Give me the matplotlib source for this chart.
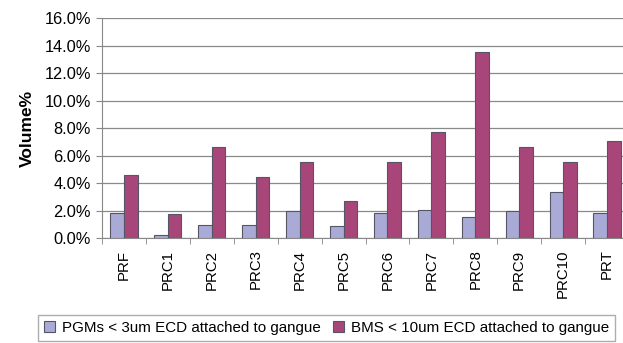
import numpy as np
import matplotlib.pyplot as plt

plt.rcParams['font.family'] = ['Liberation Sans', 'DejaVu Sans']

samples = ['PRF', 'PRC1', 'PRC2', 'PRC3', 'PRC4', 'PRC5', 'PRC6',
           'PRC7', 'PRC8', 'PRC9', 'PRC10', 'PRT']
# volume % of particles attached to gangue
pgms = [1.88, 0.23, 0.98, 1.0, 2.0, 0.89, 1.85, 2.07, 1.54, 1.98, 3.38, 1.85]
bms = [4.6, 1.76, 6.65, 4.47, 5.56, 2.73, 5.54, 7.72, 13.59, 6.65, 5.56, 7.07]
y_ticks = [0, 2, 4, 6, 8, 10, 12, 14, 16]

fig = plt.figure(figsize=(6.23, 3.43), dpi=100)
ax = fig.add_axes([0.1637, 0.3047, 0.846, 0.6414])

x = np.arange(len(samples))
w = 0.31
ax.bar(x - w / 2, pgms, w, color='#aaaad6', edgecolor='#555566', linewidth=0.8,
       label='PGMs < 3um ECD attached to gangue', zorder=3)
ax.bar(x + w / 2, bms, w, color='#a8467a', edgecolor='#555566', linewidth=0.8,
       label='BMS < 10um ECD attached to gangue', zorder=3)

ax.set_xlim(-0.5, len(samples) - 0.5)
ax.set_ylim(0, 16)
ax.set_yticks(y_ticks)
ax.set_yticklabels(['%.1f%%' % v for v in y_ticks], fontsize=11.8)
ax.yaxis.grid(True, color='#8a8a8a', linewidth=0.9, zorder=0)

# category labels at centres, tick marks on the boundaries
ax.set_xticks(x)
ax.set_xticklabels(samples, rotation=90, fontsize=10.8)
ax.set_xticks(np.arange(len(samples) + 1) - 0.5, minor=True)
ax.tick_params(axis='x', which='major', length=0, pad=8)
ax.tick_params(axis='x', which='minor', length=4, color='#888888')
ax.tick_params(axis='y', length=4, color='#888888', pad=4)

for s in ['top', 'right']:
    ax.spines[s].set_visible(False)
ax.spines['left'].set_color('#888888')
ax.spines['bottom'].set_color('#888888')

ax.set_ylabel('Volume%', fontsize=12.5, fontweight='bold', labelpad=7)

fig.legend(loc='upper left', bbox_to_anchor=(0.061, 0.0816), ncol=2,
           fontsize=10.9, frameon=True, fancybox=False, edgecolor='#999999',
           handlelength=0.7, handleheight=0.7, handletextpad=0.5,
           columnspacing=0.8, borderpad=0.4, borderaxespad=0)

fig.savefig('out.png', dpi=100)
